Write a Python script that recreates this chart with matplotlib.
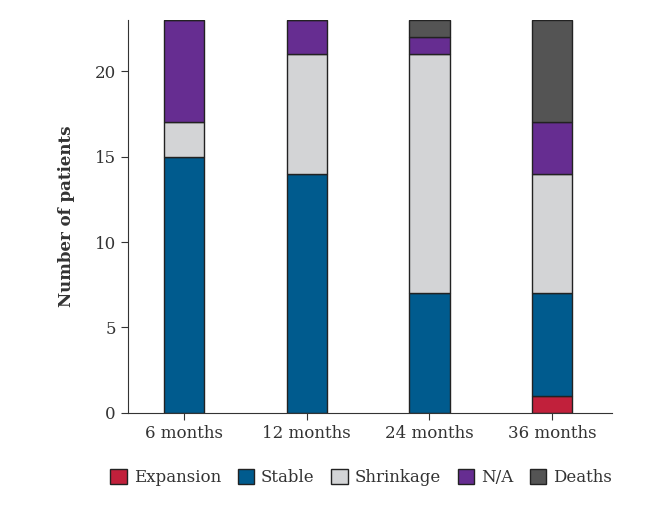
import matplotlib
matplotlib.use("Agg")
import matplotlib.pyplot as plt
import numpy as np

plt.rcParams['font.family'] = ['DejaVu Serif']

timepoints = ["6 months", "12 months", "24 months", "36 months"]
series_names = ["Expansion", "Stable", "Shrinkage", "N/A", "Deaths"]
expansion = [0, 0, 0, 1]
stable = [15, 14, 7, 6]
shrinkage = [2, 7, 14, 7]
not_available = [6, 2, 1, 3]
deaths = [0, 0, 1, 6]
colors = ["#C1203B", "#005B8E", "#D3D4D6", "#662D91", "#545454"]

fig = plt.figure(figsize=(6.69, 5.11), dpi=100)
ax = fig.add_axes([0.191, 0.192, 0.724, 0.769])

x = np.arange(len(timepoints))
bottom = np.zeros(len(timepoints))
for name, vals, c in zip(series_names, [expansion, stable, shrinkage, not_available, deaths], colors):
    vals = np.array(vals, dtype=float)
    ax.bar(x, vals, width=0.33, bottom=bottom, color=c, edgecolor="#222222",
           linewidth=1.0, label=name)
    bottom += vals

ax.set_xlim(-0.46, 3.49)
ax.set_ylim(0, 23)
ax.set_yticks([0, 5, 10, 15, 20])
ax.set_xticks(x)
ax.set_xticklabels(timepoints)
ax.tick_params(labelsize=12, color="#333333", labelcolor="#333333", length=5)
ax.set_ylabel("Number of patients", fontsize=12, fontweight="bold", color="#333333", labelpad=14)
for s in ["top", "right"]:
    ax.spines[s].set_visible(False)
for s in ["left", "bottom"]:
    ax.spines[s].set_color("#333333")

ax.legend(loc="upper center", bbox_to_anchor=(0.482, -0.105), ncol=5, frameon=False,
          fontsize=12, handlelength=1.0, handleheight=1.0, handletextpad=0.4,
          columnspacing=1.0, labelcolor="#333333")

fig.savefig("out.png", dpi=100)
